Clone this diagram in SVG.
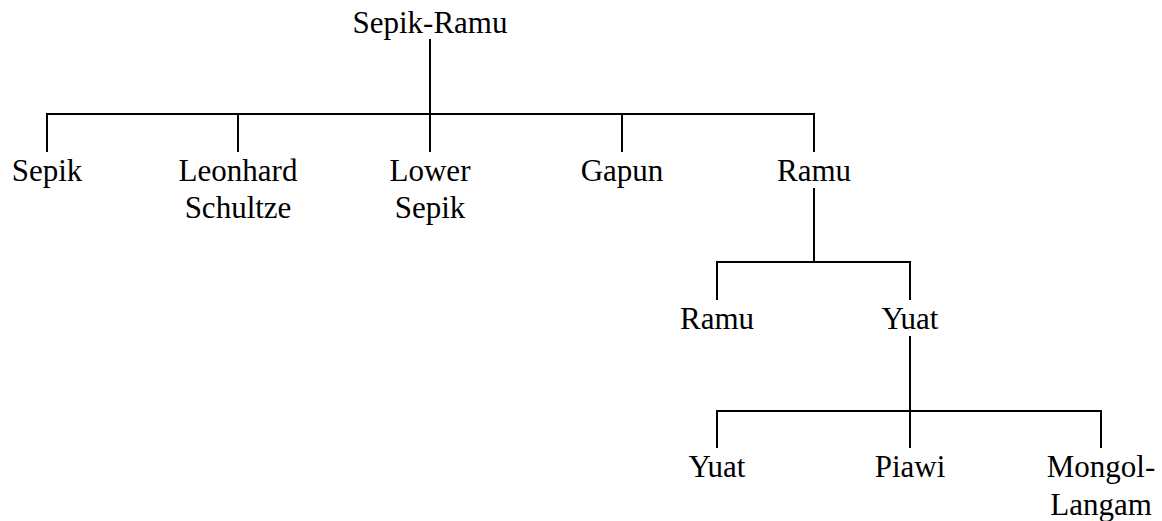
<svg xmlns="http://www.w3.org/2000/svg" width="1162" height="521" viewBox="0 0 1162 521">
  <rect width="1162" height="521" fill="#ffffff"/>
  <g id="connectors" fill="none" stroke="#000000" stroke-width="2">
    <!-- Sepik-Ramu to its five branches -->
    <path d="M430 39 V114 M47 152 V114 H814 V152 M238 114 V152 M430 114 V152 M622 114 V152"/>
    <!-- Ramu to Ramu / Yuat -->
    <path d="M814 188 V262 M717 300 V262 H910 V300"/>
    <!-- Yuat to Yuat / Piawi / Mongol-Langam -->
    <path d="M910 336 V411 M717 448 V411 H1101 V448 M910 411 V448"/>
  </g>
  <g id="sepik-ramu"><text x="430" y="33" font-family="Times New Roman" font-size="31" text-anchor="middle">Sepik-Ramu</text></g>
  <g id="sepik"><text x="47" y="181" font-family="Times New Roman" font-size="31" text-anchor="middle">Sepik</text></g>
  <g id="leonhard-schultze"><text x="238" y="181" font-family="Times New Roman" font-size="31" text-anchor="middle">Leonhard</text><text x="238" y="218" font-family="Times New Roman" font-size="31" text-anchor="middle">Schultze</text></g>
  <g id="lower-sepik"><text x="430" y="181" font-family="Times New Roman" font-size="31" text-anchor="middle">Lower</text><text x="430" y="218" font-family="Times New Roman" font-size="31" text-anchor="middle">Sepik</text></g>
  <g id="gapun"><text x="622" y="181" font-family="Times New Roman" font-size="31" text-anchor="middle">Gapun</text></g>
  <g id="ramu"><text x="814" y="181" font-family="Times New Roman" font-size="31" text-anchor="middle">Ramu</text></g>
  <g id="ramu-2"><text x="717" y="329" font-family="Times New Roman" font-size="31" text-anchor="middle">Ramu</text></g>
  <g id="yuat"><text x="910" y="329" font-family="Times New Roman" font-size="31" text-anchor="middle">Yuat</text></g>
  <g id="yuat-2"><text x="717" y="477" font-family="Times New Roman" font-size="31" text-anchor="middle">Yuat</text></g>
  <g id="piawi"><text x="910" y="477" font-family="Times New Roman" font-size="31" text-anchor="middle">Piawi</text></g>
  <g id="mongol-langam"><text x="1101" y="477" font-family="Times New Roman" font-size="31" text-anchor="middle">Mongol-</text><text x="1101" y="515" font-family="Times New Roman" font-size="31" text-anchor="middle">Langam</text></g>
</svg>
